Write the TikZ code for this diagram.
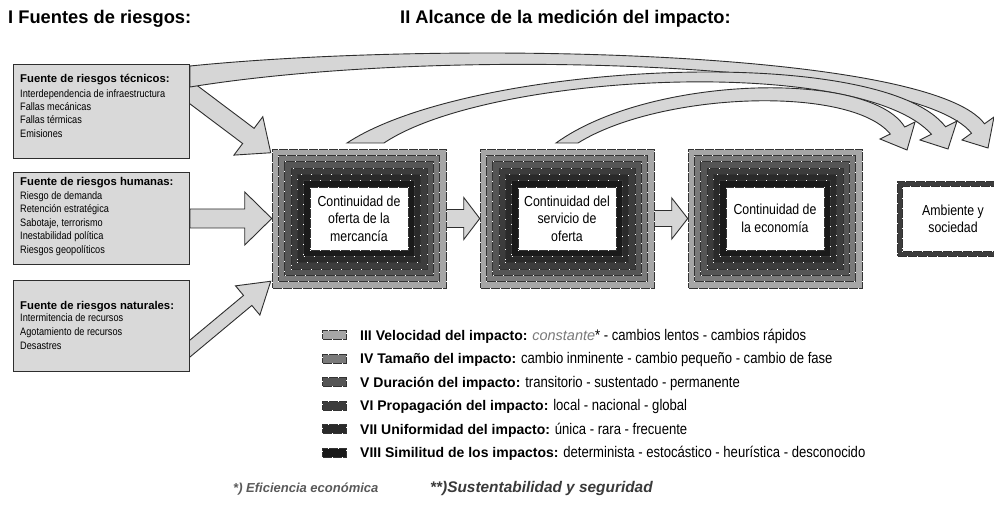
\documentclass[tikz,border=0pt]{standalone}
\usepackage{fontspec}
\usepackage{graphicx}
\setmainfont{Liberation Sans}
\newfontfamily\nar[FakeStretch=0.85]{Liberation Sans}
\usetikzlibrary{calc}
\pgfdeclarelayer{back}
\pgfdeclarelayer{bg}
\pgfsetlayers{back,bg,main}
\definecolor{cIII}{HTML}{A6A6A6}
\definecolor{cIV}{HTML}{7A7A7A}
\definecolor{cV}{HTML}{555555}
\definecolor{cVI}{HTML}{3C3C3C}
\definecolor{cVII}{HTML}{2A2A2A}
\definecolor{cVIII}{HTML}{1A1A1A}
\definecolor{boxfill}{HTML}{D9D9D9}
\definecolor{arrowfill}{HTML}{D6D6D6}
\definecolor{edge}{HTML}{2E2E2E}
\definecolor{softgray}{HTML}{7A7A7A}
\definecolor{notegray}{HTML}{5A5A5A}
\definecolor{notedark}{HTML}{3A3A3A}
\newcommand\legB[1]{{\rmfamily\bfseries\fontsize{14}{17}\selectfont #1}}
\newcommand\legI[1]{{\rmfamily\itshape\color{softgray}\fontsize{14.5}{17}\selectfont #1}}
\newcommand\itm[1]{\scalebox{0.85}[1]{#1}}
\newcommand\impbox[3]{%
  \node[layer, fill=cIII, minimum width=174, minimum height=139] (#1) at (#2) {};
  \node[layer, fill=cIV, minimum width=161.3, minimum height=126.3] (#1-4) at (#2) {};
  \node[layer, fill=cV, minimum width=148.7, minimum height=113.7] (#1-5) at (#2) {};
  \node[layer, fill=cVI, minimum width=136, minimum height=101] (#1-6) at (#2) {};
  \node[layer, fill=cVII, minimum width=123.3, minimum height=88.3] (#1-7) at (#2) {};
  \node[layer, fill=cVIII, minimum width=110.7, minimum height=75.7] (#1-8) at (#2) {};
  \node[layer, fill=white, minimum width=98, minimum height=63, boxtxt] (#1-in) at (#2) {#3};
}
\newcommand\harrowpoly[5]{%
  \draw[blockarrow] ($(#1)+(0,#3)$) -- ($(#2)+(-#5,#3)$) -- ($(#2)+(-#5,#4)$) -- (#2)
    -- ($(#2)+(-#5,-#4)$) -- ($(#2)+(-#5,-#3)$) -- ($(#1)+(0,-#3)$) -- cycle;
}
\newcommand\darrowpoly[5]{%
  \coordinate (bk) at ($(#2)!#5pt!(#1)$);
  \draw[blockarrow] ($(#1)!#3pt!90:(#2)$) -- ($(bk)!#3pt!90:(#2)$) -- ($(bk)!#4pt!90:(#2)$) -- (#2)
    -- ($(bk)!#4pt!-90:(#2)$) -- ($(bk)!#3pt!-90:(#2)$) -- ($(#1)!#3pt!-90:(#2)$) -- cycle;
}
\begin{document}
\begin{tikzpicture}[x=1pt,y=-1pt,
  layer/.style={rectangle, inner sep=0, draw=black!80, line width=0.5,
    postaction={draw=white, line width=0.45, dash pattern=on 0.8pt off 9.2pt}},
  boxtxt/.style={align=center, font=\nar\fontsize{14.5}{17.5}\selectfont},
  srcbox/.style={rectangle, inner sep=0, draw=edge, fill=boxfill, line width=1},
  blockarrow/.style={fill=arrowfill, draw=edge, line width=0.9, line join=miter},
  ttl/.style={font=\bfseries\fontsize{18.3}{22}\selectfont, inner sep=0, anchor=base west},
  srchead/.style={font=\bfseries\fontsize{11.3}{14}\selectfont, inner sep=0, anchor=base west},
  srcitem/.style={font=\fontsize{10.8}{13}\selectfont, inner sep=0, anchor=base west},
  swatch/.style={layer, minimum width=24, minimum height=9},
  leg/.style={font=\nar\fontsize{15.4}{18}\selectfont, inner sep=0, anchor=base west},
  note/.style={font=\bfseries\itshape\fontsize{13}{16}\selectfont, text=notegray, inner sep=0, anchor=base west}
]
\useasboundingbox (0,0) rectangle (994,505);
\begin{pgfonlayer}{back}
  \fill[white] (0,0) rectangle (994,505);
\end{pgfonlayer}
\clip (0,0) rectangle (994,505);

% titles
\node[ttl] (t1) at (8,24) {I Fuentes de riesgos:};
\node[ttl] (t2) at (400,24) {II Alcance de la medición del impacto:};

% source boxes
\node[srcbox, minimum width=176, minimum height=94, anchor=north west] (s1) at (13,64) {};
\node[srcbox, minimum width=176, minimum height=92, anchor=north west] (s2) at (13,172) {};
\node[srcbox, minimum width=176, minimum height=91, anchor=north west] (s3) at (13,280) {};

\node[srchead] (s1h) at (20,83) {Fuente de riesgos técnicos:};
\node[srcitem] (s1i1) at (20,97.2) {\itm{Interdependencia de infraestructura}};
\node[srcitem] (s1i2) at (20,110.5) {\itm{Fallas mecánicas}};
\node[srcitem] (s1i3) at (20,123.8) {\itm{Fallas térmicas}};
\node[srcitem] (s1i4) at (20,137.1) {\itm{Emisiones}};

\node[srchead] (s2h) at (20,185.7) {Fuente de riesgos humanas:};
\node[srcitem] (s2i1) at (20,199.6) {\itm{Riesgo de demanda}};
\node[srcitem] (s2i2) at (20,213.0) {\itm{Retención estratégica}};
\node[srcitem] (s2i3) at (20,226.4) {\itm{Sabotaje, terrorismo}};
\node[srcitem] (s2i4) at (20,239.8) {\itm{Inestabilidad política}};
\node[srcitem] (s2i5) at (20,253.2) {\itm{Riesgos geopolíticos}};

\node[srchead] (s3h) at (20,309) {Fuente de riesgos naturales:};
\node[srcitem] (s3i1) at (20,321.2) {\itm{Intermitencia de recursos}};
\node[srcitem] (s3i2) at (20,335.1) {\itm{Agotamiento de recursos}};
\node[srcitem] (s3i3) at (20,349.0) {\itm{Desastres}};

% impact boxes
\impbox{A}{359,218.5}{Continuidad de\\oferta de la\\mercancía}
\impbox{B}{567,218.5}{Continuidad del\\servicio de\\oferta}
\impbox{C}{775,218.5}{Continuidad de\\la economía}
\node[layer, fill=cVI, minimum width=112, minimum height=74.6] (D) at (953,219) {};
\node[layer, fill=white, minimum width=102, minimum height=64.6, boxtxt] (D-in) at (953,219) {Ambiente y\\sociedad};

% arrows (behind)
\begin{pgfonlayer}{bg}
  \coordinate (h1t) at (A.west |- s2.east);
  \harrowpoly{s2.east}{h1t}{9.5}{26.5}{27}
  \harrowpoly{A.east}{B.west}{9}{21}{16}
  \harrowpoly{B.east}{C.west}{8}{20.5}{16}
  \coordinate (d1s) at (178,83);
  \coordinate (d1t) at ($(A.north west)+(-1,4)$);
  \darrowpoly{d1s}{d1t}{9.5}{24}{28}
  \coordinate (d2s) at (178,358.5);
  \coordinate (d2t) at ($(A.south west)+(-1,-7)$);
  \darrowpoly{d2s}{d2t}{6.5}{19}{30}
  % curved arrows
  \draw[blockarrow] (s1.east |- 0,66) .. controls (450,40) and (930,50) .. (984.5,123.8)
    -- (994,117) -- (988,148) -- (962,140) -- (971.5,133.2)
    .. controls (915,62) and (450,45) .. (s1.east |- 0,87) -- cycle;
  \draw[blockarrow] (347,143) .. controls (470,62) and (880,42) .. (945.6,126.8)
    -- (957,121) -- (948,149) -- (920,140) -- (931.4,134.2)
    .. controls (860,55) and (490,72) .. (384,143) -- cycle;
  \draw[blockarrow] (556,143) .. controls (650,75) and (870,70) .. (904.7,127)
    -- (915,122) -- (907,150) -- (880,139) -- (890.3,134)
    .. controls (850,85) and (660,92) .. (578,143) -- cycle;
\end{pgfonlayer}

% legend
\node[swatch, fill=cIII] (k3) at (334,335) {};
\node[swatch, fill=cIV] (k4) at (334,358.5) {};
\node[swatch, fill=cV] (k5) at (334,382) {};
\node[swatch, fill=cVI] (k6) at (334,405.5) {};
\node[swatch, fill=cVII] (k7) at (334,429) {};
\node[swatch, fill=cVIII] (k8) at (334,452.5) {};

\node[leg] (l3) at (360,340) {\legB{III Velocidad del impacto:} \legI{constante}* - cambios lentos - cambios rápidos};
\node[leg] (l4) at (360,363.5) {\legB{IV Tamaño del impacto:} cambio inminente - cambio pequeño - cambio de fase};
\node[leg] (l5) at (360,387) {\legB{V Duración del impacto:} transitorio - sustentado - permanente};
\node[leg] (l6) at (360,410.5) {\legB{VI Propagación del impacto:} local - nacional - global};
\node[leg] (l7) at (360,434) {\legB{VII Uniformidad del impacto:} única - rara - frecuente};
\node[leg] (l8) at (360,457.5) {\legB{VIII Similitud de los impactos:} determinista - estocástico - heurística - desconocido};

% footnotes
\node[note] (n1) at (233,492) {*) Eficiencia económica};
\node[note, text=notedark, font=\bfseries\itshape\fontsize{15.4}{18}\selectfont] (n2) at (430,492) {**)Sustentabilidad y seguridad};
\end{tikzpicture}
\end{document}
